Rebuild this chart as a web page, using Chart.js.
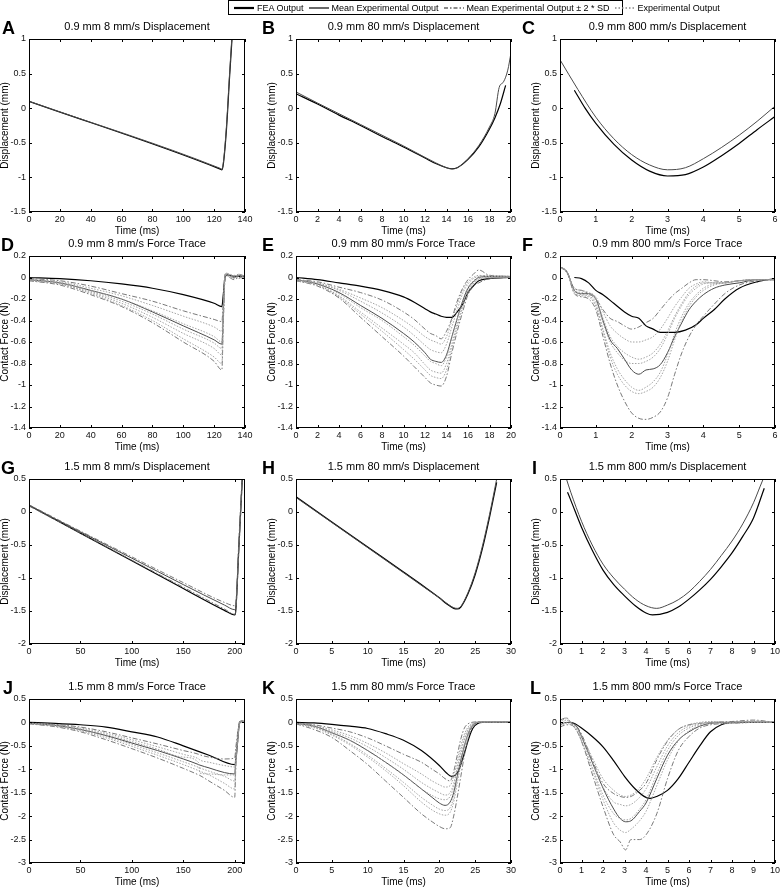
<!DOCTYPE html>
<html><head><meta charset="utf-8"><title>FEA vs experimental output</title>
<script src="https://cdn.jsdelivr.net/npm/chart.js@4.4.1/dist/chart.umd.min.js"></script>
<style>
html,body{margin:0;padding:0;background:#fff}
body{position:relative;width:780px;height:889px;overflow:hidden;font-family:"Liberation Sans",Arial,sans-serif}
canvas{position:absolute}
.letter{position:absolute;font-weight:bold;font-size:18px;line-height:18px;color:#000}
#legend{position:absolute;left:228px;top:0;width:393px;height:13px;border:1px solid #000;background:#fff;display:flex;align-items:center;font-size:9px;white-space:nowrap;color:#000;z-index:5}
#legend .it{display:flex;align-items:center;margin-left:5px}
#legend svg{margin-right:3px}
</style></head><body>
<div id="legend">
<div class="it"><svg width="20" height="6"><line x1="0" y1="3" x2="20" y2="3" stroke="#000" stroke-width="2.2"/></svg>FEA Output</div>
<div class="it"><svg width="20" height="6"><line x1="0" y1="3" x2="20" y2="3" stroke="#444" stroke-width="1.6"/></svg>Mean Experimental Output</div>
<div class="it"><svg width="20" height="6"><line x1="0" y1="3" x2="20" y2="3" stroke="#666" stroke-width="1.4" stroke-dasharray="4,2,1.5,2"/></svg>Mean Experimental Output ± 2 * SD</div>
<div class="it"><svg width="20" height="6"><line x1="0" y1="3" x2="20" y2="3" stroke="#888" stroke-width="1.4" stroke-dasharray="1.5,2"/></svg>Experimental Output</div>
</div>
<script>
// ---------- DATA ----------
// A: 0.9 mm 8 mm/s displacement
const tA = [0, 124, 125, 126, 128, 130, 132];
const fA = [0.1, -0.88, -0.89, -0.8, -0.3, 0.45, 1.15];
const mA = [0.1, -0.87, -0.88, -0.78, -0.25, 0.5, 1.2];
// B: 0.9 mm 80 mm/s displacement
const tBf = [0, 2, 4, 6, 8, 10, 12, 13, 14, 14.5, 15, 16, 17, 18, 18.5, 19, 19.5];
const fB = [0.21, 0.06, -0.1, -0.25, -0.41, -0.56, -0.72, -0.8, -0.86, -0.875, -0.86, -0.74, -0.56, -0.3, -0.14, 0.06, 0.33];
const tB = [0, 2, 4, 6, 8, 10, 12, 13, 14, 14.5, 15, 16, 17, 18, 18.5, 18.9, 19.3, 19.7, 20];
const mB = [0.235, 0.075, -0.08, -0.235, -0.39, -0.545, -0.71, -0.79, -0.86, -0.88, -0.86, -0.73, -0.54, -0.27, -0.08, 0.3, 0.38, 0.55, 0.8];
// C: 0.9 mm 800 mm/s displacement
const tC = [0, 0.5, 1, 1.5, 2, 2.5, 3, 3.5, 4, 4.5, 5, 5.5, 6];
const mC = [0.7, 0.27, -0.13, -0.44, -0.67, -0.82, -0.89, -0.86, -0.73, -0.57, -0.39, -0.19, 0.03];
const tCf = [0.4, 0.7, 1, 1.5, 2, 2.5, 3, 3.5, 4, 4.5, 5, 5.5, 6];
const fC = [0.26, 0.0, -0.22, -0.52, -0.75, -0.91, -0.98, -0.96, -0.85, -0.69, -0.51, -0.31, -0.12];
// D: 0.9 mm 8 mm/s force
const tD = [0, 20, 40, 60, 80, 100, 120, 125, 126, 127, 128, 130, 133, 136, 140];
const fD = [0, -0.01, -0.03, -0.06, -0.1, -0.16, -0.24, -0.27, -0.15, 0.0, 0.02, 0.02, 0.01, 0.01, 0.01];
const mD = [-0.02, -0.05, -0.12, -0.2, -0.32, -0.45, -0.58, -0.62, -0.3, 0.0, 0.03, 0.02, 0.0, 0.02, 0.0];
const uD = [-0.01, -0.03, -0.08, -0.15, -0.22, -0.31, -0.39, -0.41, -0.2, 0.03, 0.04, 0.03, 0.01, 0.03, 0.01];
const lD = [-0.03, -0.07, -0.16, -0.27, -0.42, -0.6, -0.78, -0.86, -0.4, -0.03, 0.02, 0.0, -0.02, 0.0, -0.01];
const e1D = [-0.02, -0.04, -0.1, -0.17, -0.26, -0.36, -0.46, -0.5, -0.25, 0.02, 0.03, 0.01, 0.02, 0.0, 0.02];
const e2D = [-0.02, -0.05, -0.12, -0.2, -0.31, -0.43, -0.55, -0.6, -0.3, 0.0, 0.04, 0.02, 0.0, 0.03, 0.01];
const e3D = [-0.02, -0.05, -0.13, -0.22, -0.34, -0.48, -0.61, -0.66, -0.33, 0.01, 0.02, 0.03, 0.01, -0.01, 0.02];
const e4D = [-0.03, -0.06, -0.14, -0.24, -0.37, -0.52, -0.66, -0.72, -0.35, -0.01, 0.03, 0.0, 0.02, 0.01, 0.0];
const e5D = [-0.03, -0.06, -0.15, -0.26, -0.4, -0.57, -0.74, -0.8, -0.4, 0.0, 0.02, 0.01, -0.01, 0.02, 0.01];
// E: 0.9 mm 80 mm/s force
const tE = [0, 2, 4, 6, 8, 10, 11, 12, 12.5, 13, 13.5, 14, 14.5, 15, 15.5, 16, 16.5, 17, 18, 20];
const fE = [0, -0.02, -0.05, -0.08, -0.12, -0.18, -0.23, -0.29, -0.32, -0.34, -0.36, -0.37, -0.37, -0.32, -0.25, -0.14, -0.08, -0.03, -0.01, 0];
const mE = [-0.02, -0.06, -0.14, -0.26, -0.38, -0.52, -0.6, -0.7, -0.76, -0.78, -0.79, -0.72, -0.55, -0.38, -0.22, -0.1, -0.04, 0, 0.01, 0.01];
const uE = [-0.02, -0.04, -0.09, -0.14, -0.21, -0.32, -0.39, -0.48, -0.52, -0.54, -0.57, -0.5, -0.38, -0.22, -0.1, -0.02, 0.03, 0.07, 0.02, 0.01];
const lE = [-0.03, -0.08, -0.19, -0.37, -0.55, -0.73, -0.83, -0.93, -0.98, -1.0, -1.01, -0.92, -0.7, -0.5, -0.32, -0.16, -0.08, -0.05, -0.01, 0];
const e1E = [-0.02, -0.05, -0.11, -0.19, -0.28, -0.4, -0.47, -0.55, -0.58, -0.6, -0.62, -0.55, -0.4, -0.25, -0.12, -0.04, 0.0, 0.02, 0.01, 0.01];
const e2E = [-0.02, -0.05, -0.12, -0.22, -0.33, -0.46, -0.54, -0.63, -0.67, -0.69, -0.7, -0.62, -0.46, -0.3, -0.15, -0.06, -0.01, 0.01, 0.02, 0.01];
const e3E = [-0.02, -0.06, -0.15, -0.28, -0.4, -0.55, -0.63, -0.73, -0.78, -0.8, -0.82, -0.74, -0.56, -0.38, -0.22, -0.09, -0.03, 0.0, 0.01, 0.01];
const e4E = [-0.03, -0.07, -0.17, -0.32, -0.47, -0.62, -0.7, -0.81, -0.86, -0.88, -0.89, -0.8, -0.62, -0.43, -0.26, -0.12, -0.05, -0.01, 0.0, 0.0];
const e5E = [-0.03, -0.07, -0.18, -0.34, -0.5, -0.67, -0.76, -0.86, -0.91, -0.93, -0.94, -0.86, -0.66, -0.46, -0.28, -0.14, -0.06, -0.02, 0.0, 0.0];
// F: 0.9 mm 800 mm/s force
const tF = [0, 0.2, 0.4, 0.6, 0.8, 1.0, 1.2, 1.4, 1.6, 1.8, 2.0, 2.2, 2.4, 2.6, 2.8, 3.0, 3.2, 3.4, 3.6, 3.8, 4.0, 4.3, 4.6, 5.0, 5.5, 6.0];
const mF = [0.1, 0.05, -0.12, -0.15, -0.15, -0.2, -0.4, -0.58, -0.66, -0.76, -0.86, -0.9, -0.86, -0.85, -0.81, -0.7, -0.55, -0.42, -0.3, -0.22, -0.16, -0.1, -0.07, -0.05, -0.02, -0.02];
const uF = [0.1, 0.04, -0.1, -0.12, -0.15, -0.2, -0.3, -0.38, -0.41, -0.45, -0.48, -0.46, -0.42, -0.38, -0.3, -0.22, -0.15, -0.1, -0.05, -0.02, -0.02, -0.03, -0.04, -0.03, -0.02, -0.02];
const lF = [0.1, 0.05, -0.15, -0.18, -0.2, -0.3, -0.55, -0.8, -1.0, -1.15, -1.26, -1.31, -1.32, -1.3, -1.25, -1.12, -0.9, -0.7, -0.55, -0.44, -0.36, -0.25, -0.15, -0.07, -0.03, -0.02];
const e1F = [0.1, 0.04, -0.1, -0.12, -0.14, -0.18, -0.32, -0.45, -0.52, -0.57, -0.6, -0.6, -0.58, -0.55, -0.48, -0.38, -0.27, -0.18, -0.1, -0.06, -0.04, -0.05, -0.05, -0.03, -0.02, -0.02];
const e2F = [0.1, 0.05, -0.11, -0.14, -0.15, -0.2, -0.38, -0.55, -0.64, -0.7, -0.74, -0.76, -0.74, -0.7, -0.62, -0.5, -0.36, -0.24, -0.14, -0.08, -0.05, -0.05, -0.05, -0.03, -0.02, -0.02];
const e3F = [0.1, 0.05, -0.12, -0.15, -0.16, -0.22, -0.42, -0.6, -0.7, -0.77, -0.8, -0.8, -0.78, -0.74, -0.66, -0.53, -0.38, -0.26, -0.16, -0.1, -0.06, -0.05, -0.05, -0.03, -0.02, -0.02];
const e4F = [0.1, 0.05, -0.13, -0.16, -0.17, -0.25, -0.48, -0.7, -0.85, -0.95, -1.02, -1.05, -1.02, -0.97, -0.88, -0.72, -0.52, -0.36, -0.24, -0.16, -0.1, -0.06, -0.05, -0.03, -0.02, -0.02];
const e5F = [0.1, 0.05, -0.14, -0.17, -0.18, -0.27, -0.5, -0.74, -0.9, -1.0, -1.06, -1.08, -1.06, -1.02, -0.93, -0.78, -0.58, -0.4, -0.27, -0.18, -0.12, -0.07, -0.05, -0.03, -0.02, -0.02];
const tFf = [0.4, 0.6, 0.8, 1.0, 1.2, 1.5, 1.8, 2.0, 2.2, 2.4, 2.6, 2.8, 3.0, 3.2, 3.5, 3.8, 4.0, 4.3, 4.6, 5.0, 5.5, 6.0];
const fF = [0.0, -0.01, -0.05, -0.12, -0.16, -0.24, -0.32, -0.36, -0.38, -0.45, -0.48, -0.51, -0.51, -0.51, -0.49, -0.44, -0.38, -0.3, -0.2, -0.1, -0.04, -0.01];
// G: 1.5 mm 8 mm/s displacement
const tG = [0, 50, 100, 150, 190, 200, 201, 204, 208];
const fG = [0.1, -0.32, -0.74, -1.16, -1.49, -1.56, -1.5, -0.55, 0.7];
const mG = [0.1, -0.3, -0.7, -1.1, -1.41, -1.48, -1.44, -0.5, 0.75];
const uG = [0.11, -0.29, -0.68, -1.07, -1.37, -1.42, -1.38, -0.45, 0.8];
const lG = [0.09, -0.32, -0.73, -1.14, -1.47, -1.55, -1.5, -0.6, 0.68];
// H: 1.5 mm 80 mm/s displacement
const tH = [0, 5, 10, 15, 18, 20, 21, 22, 22.5, 23, 24, 25, 26, 27, 28];
const mH = [0.22, -0.16, -0.54, -0.92, -1.15, -1.3, -1.38, -1.45, -1.46, -1.43, -1.22, -0.92, -0.52, -0.04, 0.5];
const fH = [0.23, -0.15, -0.53, -0.91, -1.14, -1.3, -1.39, -1.46, -1.47, -1.44, -1.24, -0.95, -0.56, -0.08, 0.45];
// I: 1.5 mm 800 mm/s displacement
const tI = [0.28, 0.5, 1, 1.5, 2, 2.5, 3, 3.5, 4, 4.5, 5, 5.5, 6, 6.5, 7, 7.5, 8, 8.5, 9, 9.3, 9.45];
const mI = [0.52, 0.3, -0.14, -0.5, -0.79, -1.0, -1.17, -1.32, -1.42, -1.46, -1.41, -1.33, -1.21, -1.05, -0.87, -0.66, -0.44, -0.18, 0.14, 0.38, 0.5];
const tIf = [0.35, 0.5, 1, 1.5, 2, 2.5, 3, 3.5, 4, 4.3, 5, 5.5, 6, 6.5, 7, 7.5, 8, 8.5, 9, 9.5];
const fI = [0.3, 0.18, -0.23, -0.58, -0.88, -1.1, -1.27, -1.42, -1.53, -1.56, -1.52, -1.44, -1.32, -1.18, -1.02, -0.83, -0.62, -0.37, -0.09, 0.36];
// J: 1.5 mm 8 mm/s force
const tJ = [0, 25, 50, 75, 100, 125, 150, 165, 166, 175, 190, 200, 201, 203, 205, 207, 210];
const mJ = [-0.02, -0.06, -0.15, -0.28, -0.44, -0.6, -0.78, -0.9, -0.91, -0.97, -1.07, -1.1, -0.8, -0.3, 0.02, 0.03, 0.02];
const uJ = [-0.01, -0.04, -0.1, -0.2, -0.33, -0.46, -0.6, -0.68, -0.69, -0.74, -0.78, -0.76, -0.55, -0.2, 0.03, 0.03, 0.02];
const lJ = [-0.03, -0.09, -0.2, -0.37, -0.56, -0.76, -0.98, -1.12, -1.13, -1.25, -1.45, -1.6, -1.0, -0.4, 0.0, 0.03, 0.02];
const e1J = [-0.02, -0.05, -0.12, -0.23, -0.37, -0.52, -0.68, -0.78, -0.8, -0.85, -0.92, -0.95, -0.7, -0.25, 0.02, 0.03, 0.02];
const e2J = [-0.02, -0.06, -0.14, -0.26, -0.41, -0.57, -0.74, -0.86, -1.08, -1.1, -1.12, -1.12, -0.8, -0.3, 0.01, 0.03, 0.02];
const e3J = [-0.02, -0.07, -0.16, -0.3, -0.47, -0.65, -0.84, -0.96, -0.97, -1.04, -1.15, -1.25, -0.9, -0.35, 0.0, 0.03, 0.02];
const e4J = [-0.03, -0.08, -0.18, -0.33, -0.51, -0.7, -0.9, -1.03, -1.04, -1.12, -1.3, -1.42, -0.95, -0.38, 0.0, 0.03, 0.02];
const tJf = [0, 25, 50, 75, 100, 125, 150, 175, 200, 202, 204, 206, 208];
const fJ = [0, -0.02, -0.05, -0.1, -0.2, -0.31, -0.5, -0.7, -0.9, -0.6, -0.1, 0.02, 0.0];
// K: 1.5 mm 80 mm/s force
const tK = [0, 2.5, 5, 7.5, 10, 12.5, 15, 17.5, 19, 20, 20.8, 21.5, 22, 22.5, 23, 23.5, 24, 24.5, 25, 26, 30];
const mK = [-0.02, -0.08, -0.22, -0.38, -0.6, -0.85, -1.12, -1.42, -1.6, -1.72, -1.77, -1.7, -1.5, -1.15, -0.8, -0.5, -0.25, -0.1, -0.02, 0.01, 0.01];
const uK = [-0.01, -0.05, -0.12, -0.2, -0.33, -0.5, -0.68, -0.85, -1.0, -1.1, -1.2, -1.25, -1.05, -0.7, -0.35, -0.12, -0.03, 0.0, 0.01, 0.01, 0.01];
const lK = [-0.03, -0.15, -0.32, -0.6, -0.9, -1.25, -1.6, -1.95, -2.12, -2.22, -2.27, -2.25, -2.0, -1.6, -1.15, -0.7, -0.35, -0.12, -0.02, 0.01, 0.01];
const e1K = [-0.02, -0.06, -0.16, -0.28, -0.45, -0.65, -0.88, -1.1, -1.25, -1.33, -1.38, -1.35, -1.15, -0.82, -0.5, -0.25, -0.1, -0.03, 0.0, 0.01, 0.01];
const e2K = [-0.02, -0.07, -0.19, -0.33, -0.52, -0.75, -1.0, -1.28, -1.42, -1.5, -1.55, -1.5, -1.3, -0.95, -0.6, -0.32, -0.14, -0.05, 0.0, 0.01, 0.01];
const e3K = [-0.02, -0.08, -0.22, -0.38, -0.6, -0.85, -1.12, -1.42, -1.56, -1.63, -1.65, -1.58, -1.38, -1.02, -0.68, -0.38, -0.18, -0.06, 0.0, 0.01, 0.01];
const e4K = [-0.03, -0.1, -0.25, -0.45, -0.7, -0.98, -1.28, -1.6, -1.76, -1.85, -1.88, -1.82, -1.6, -1.2, -0.82, -0.48, -0.22, -0.08, -0.01, 0.01, 0.01];
const e5K = [-0.03, -0.11, -0.27, -0.48, -0.74, -1.03, -1.35, -1.7, -1.87, -1.95, -1.98, -1.92, -1.7, -1.3, -0.9, -0.52, -0.25, -0.09, -0.01, 0.01, 0.01];
const tKf = [0, 2.5, 5, 7.5, 10, 12.5, 15, 17.5, 20, 21, 21.7, 22.2, 22.7, 23.2, 23.7, 24.2, 24.7, 25.3, 26, 30];
const fK = [0, -0.01, -0.04, -0.08, -0.13, -0.24, -0.38, -0.6, -0.92, -1.08, -1.15, -1.13, -1.02, -0.8, -0.55, -0.3, -0.12, -0.03, 0, 0];
// L: 1.5 mm 800 mm/s force
const tL = [0, 0.3, 0.5, 0.8, 1, 1.5, 2, 2.5, 2.8, 3.05, 3.3, 3.7, 4, 4.5, 5, 5.5, 6, 6.5, 7, 8, 9, 10];
const mL = [-0.05, 0.0, 0.0, -0.1, -0.3, -0.85, -1.4, -1.85, -2.05, -2.12, -2.1, -1.9, -1.72, -1.2, -0.7, -0.38, -0.2, -0.08, -0.02, 0.0, 0.0, 0.0];
const uL = [0.05, 0.1, 0.0, -0.1, -0.25, -0.8, -1.3, -1.52, -1.58, -1.6, -1.58, -1.45, -1.3, -0.8, -0.4, -0.15, -0.05, -0.02, 0.0, 0.02, 0.05, 0.0];
const lL = [-0.1, -0.05, -0.05, -0.2, -0.4, -1.1, -1.8, -2.4, -2.55, -2.72, -2.5, -2.5, -2.4, -1.95, -1.2, -0.6, -0.3, -0.12, -0.05, -0.02, 0.0, 0.0];
const e1L = [0.0, 0.1, 0.0, -0.12, -0.28, -0.75, -1.2, -1.45, -1.55, -1.58, -1.55, -1.4, -1.2, -0.75, -0.38, -0.15, -0.05, 0.0, 0.02, 0.0, 0.03, 0.0];
const e2L = [-0.05, 0.05, -0.02, -0.15, -0.32, -0.85, -1.38, -1.7, -1.75, -1.78, -1.75, -1.6, -1.42, -0.95, -0.5, -0.22, -0.08, -0.02, 0.0, 0.01, 0.02, 0.0];
const e3L = [-0.08, -0.02, -0.05, -0.18, -0.38, -0.95, -1.55, -1.95, -2.05, -2.08, -2.05, -1.85, -1.65, -1.1, -0.6, -0.28, -0.12, -0.04, 0.0, -0.02, 0.0, 0.0];
const e4L = [0.02, 0.08, 0.0, -0.2, -0.4, -1.0, -1.65, -2.15, -2.3, -2.35, -2.28, -2.1, -1.9, -1.35, -0.8, -0.4, -0.18, -0.06, -0.02, 0.0, 0.01, 0.0];
const tLf = [0.5, 0.7, 1, 1.5, 2, 2.5, 3, 3.5, 4, 4.2, 4.5, 5, 5.5, 6, 6.5, 7, 7.5, 8, 10];
const fL = [0, -0.03, -0.12, -0.3, -0.52, -0.82, -1.15, -1.42, -1.6, -1.62, -1.58, -1.45, -1.2, -0.85, -0.5, -0.2, -0.05, 0, 0];

// tick labels
const xTicks140 = [0, 20, 40, 60, 80, 100, 120, 140];
const xTicks20 = [0, 2, 4, 6, 8, 10, 12, 14, 16, 18, 20];
const xTicks6 = [0, 1, 2, 3, 4, 5, 6];
const xTicks210 = [0, 50, 100, 150, 200];
const xTicks30 = [0, 5, 10, 15, 20, 25, 30];
const xTicks10 = [0, 1, 2, 3, 4, 5, 6, 7, 8, 9, 10];
const yTicksDispSmall = [-1.5, -1, -0.5, 0, 0.5, 1];
const yTicksForceSmall = [-1.4, -1.2, -1, -0.8, -0.6, -0.4, -0.2, 0, 0.2];
const yTicksDispLarge = [-2, -1.5, -1, -0.5, 0, 0.5];
const yTicksForceLarge = [-3, -2.5, -2, -1.5, -1, -0.5, 0, 0.5];

// ---------- LAYOUT ----------
const COL_L = [29, 296, 560], COL_R = [245, 511, 775];
const ROW_T = [39, 256, 479, 699], ROW_B = [212, 428, 644, 863];
const YW = 30, XH = 26, TOPPAD = 24, RPAD = 12, TITLE_GAP = 12;

const STY = {
  fea: {borderColor: '#000', borderWidth: 1.2, order: 3},
  mean: {borderColor: '#4a4a4a', borderWidth: 1, order: 2},
  sd: {borderColor: '#6a6a6a', borderWidth: 0.9, borderDash: [5, 2, 1.5, 2], order: 1},
  exp: {borderColor: '#9a9a9a', borderWidth: 0.9, borderDash: [1.5, 1.5], order: 0}
};
function ds(kind, t, y) {
  return Object.assign({data: t.map((v, i) => ({x: v, y: y[i]})), pointRadius: 0, fill: false,
    cubicInterpolationMode: 'monotone'}, STY[kind]);
}

const panels = [
  {id: 'A', lx: 2, r: 0, c: 0, title: '0.9 mm 8 mm/s Displacement', xt: xTicks140, yl: 'Displacement (mm)', yt: yTicksDispSmall,
   s: [ds('fea', tA, fA), ds('mean', tA, mA)]},
  {id: 'B', lx: 262, r: 0, c: 1, title: '0.9 mm 80 mm/s Displacement', xt: xTicks20, yl: 'Displacement (mm)', yt: yTicksDispSmall,
   s: [ds('fea', tBf, fB), ds('mean', tB, mB)]},
  {id: 'C', lx: 522, r: 0, c: 2, title: '0.9 mm 800 mm/s Displacement', xt: xTicks6, yl: 'Displacement (mm)', yt: yTicksDispSmall,
   s: [ds('fea', tCf, fC), ds('mean', tC, mC)]},
  {id: 'D', lx: 1, r: 1, c: 0, title: '0.9 mm 8 mm/s Force Trace', xt: xTicks140, yl: 'Contact Force (N)', yt: yTicksForceSmall,
   s: [ds('fea', tD, fD), ds('mean', tD, mD), ds('sd', tD, uD), ds('sd', tD, lD), ds('exp', tD, e1D), ds('exp', tD, e2D), ds('exp', tD, e3D), ds('exp', tD, e4D), ds('exp', tD, e5D)]},
  {id: 'E', lx: 262, r: 1, c: 1, title: '0.9 mm 80 mm/s Force Trace', xt: xTicks20, yl: 'Contact Force (N)', yt: yTicksForceSmall,
   s: [ds('fea', tE, fE), ds('mean', tE, mE), ds('sd', tE, uE), ds('sd', tE, lE), ds('exp', tE, e1E), ds('exp', tE, e2E), ds('exp', tE, e3E), ds('exp', tE, e4E), ds('exp', tE, e5E)]},
  {id: 'F', lx: 522, r: 1, c: 2, title: '0.9 mm 800 mm/s Force Trace', xt: xTicks6, yl: 'Contact Force (N)', yt: yTicksForceSmall,
   s: [ds('fea', tFf, fF), ds('mean', tF, mF), ds('sd', tF, uF), ds('sd', tF, lF), ds('exp', tF, e1F), ds('exp', tF, e2F), ds('exp', tF, e3F), ds('exp', tF, e4F), ds('exp', tF, e5F)]},
  {id: 'G', lx: 1, r: 2, c: 0, title: '1.5 mm 8 mm/s Displacement', xt: xTicks210, xmax: 210, yl: 'Displacement (mm)', yt: yTicksDispLarge,
   s: [ds('fea', tG, fG), ds('mean', tG, mG), ds('sd', tG, uG), ds('sd', tG, lG)]},
  {id: 'H', lx: 262, r: 2, c: 1, title: '1.5 mm 80 mm/s Displacement', xt: xTicks30, yl: 'Displacement (mm)', yt: yTicksDispLarge,
   s: [ds('fea', tH, fH), ds('mean', tH, mH)]},
  {id: 'I', lx: 532, r: 2, c: 2, title: '1.5 mm 800 mm/s Displacement', xt: xTicks10, yl: 'Displacement (mm)', yt: yTicksDispLarge,
   s: [ds('fea', tIf, fI), ds('mean', tI, mI)]},
  {id: 'J', lx: 3, r: 3, c: 0, title: '1.5 mm 8 mm/s Force Trace', xt: xTicks210, xmax: 210, yl: 'Contact Force (N)', yt: yTicksForceLarge,
   s: [ds('fea', tJf, fJ), ds('mean', tJ, mJ), ds('sd', tJ, uJ), ds('sd', tJ, lJ), ds('exp', tJ, e1J), ds('exp', tJ, e2J), ds('exp', tJ, e3J), ds('exp', tJ, e4J)]},
  {id: 'K', lx: 262, r: 3, c: 1, title: '1.5 mm 80 mm/s Force Trace', xt: xTicks30, yl: 'Contact Force (N)', yt: yTicksForceLarge,
   s: [ds('fea', tKf, fK), ds('mean', tK, mK), ds('sd', tK, uK), ds('sd', tK, lK), ds('exp', tK, e1K), ds('exp', tK, e2K), ds('exp', tK, e3K), ds('exp', tK, e4K), ds('exp', tK, e5K)]},
  {id: 'L', lx: 530, r: 3, c: 2, title: '1.5 mm 800 mm/s Force Trace', xt: xTicks10, yl: 'Contact Force (N)', yt: yTicksForceLarge,
   s: [ds('fea', tLf, fL), ds('mean', tL, mL), ds('sd', tL, uL), ds('sd', tL, lL), ds('exp', tL, e1L), ds('exp', tL, e2L), ds('exp', tL, e3L), ds('exp', tL, e4L)]}
];

Chart.defaults.font.family = '"Liberation Sans", Arial, sans-serif';
Chart.defaults.color = '#000';

const fmt = v => String(Math.round(v * 100) / 100);

const deco = {
  id: 'deco',
  afterDraw(chart) {
    const {ctx, chartArea: a, scales: {x, y}} = chart;
    ctx.save();
    ctx.strokeStyle = '#000';
    ctx.lineWidth = 1;
    ctx.setLineDash([]);
    ctx.strokeRect(a.left + 0.5, a.top + 0.5, a.right - a.left - 1, a.bottom - a.top - 1);
    ctx.beginPath();
    x.ticks.forEach(t => {
      const px = Math.round(x.getPixelForValue(t.value)) + 0.5;
      ctx.moveTo(px, a.bottom); ctx.lineTo(px, a.bottom - 3);
      ctx.moveTo(px, a.top); ctx.lineTo(px, a.top + 3);
    });
    y.ticks.forEach(t => {
      const py = Math.round(y.getPixelForValue(t.value)) + 0.5;
      ctx.moveTo(a.left, py); ctx.lineTo(a.left + 3, py);
      ctx.moveTo(a.right, py); ctx.lineTo(a.right - 3, py);
    });
    ctx.stroke();
    ctx.fillStyle = '#000';
    ctx.font = '11px "Liberation Sans", Arial, sans-serif';
    ctx.textAlign = 'center';
    ctx.textBaseline = 'middle';
    ctx.fillText(chart.options.plugins.deco.title, (a.left + a.right) / 2, a.top - TITLE_GAP);
    ctx.restore();
  }
};

panels.forEach(p => {
  const L = COL_L[p.c], R = COL_R[p.c], T = ROW_T[p.r], B = ROW_B[p.r];
  const w = (R - L) + YW + RPAD, h = (B - T) + TOPPAD + XH;
  const cv = document.createElement('canvas');
  cv.width = w; cv.height = h;
  cv.style.width = w + 'px'; cv.style.height = h + 'px';
  cv.style.left = (L - YW) + 'px'; cv.style.top = (T - TOPPAD) + 'px';
  document.body.appendChild(cv);
  const lt = document.createElement('div');
  lt.className = 'letter'; lt.textContent = p.id;
  lt.style.left = p.lx + 'px'; lt.style.top = (T - TITLE_GAP - 8) + 'px';
  document.body.appendChild(lt);
  const xt = p.xt, yt = p.yt;
  new Chart(cv, {
    type: 'line',
    data: {datasets: p.s},
    options: {
      responsive: false, animation: false, devicePixelRatio: 1,
      layout: {padding: {left: 0, right: RPAD, top: TOPPAD, bottom: 0}},
      plugins: {legend: {display: false}, tooltip: {enabled: false}, deco: {title: p.title}},
      scales: {
        x: {type: 'linear', min: xt[0], max: p.xmax !== undefined ? p.xmax : xt[xt.length - 1],
          grid: {display: false, drawTicks: false}, border: {display: false},
          ticks: {font: {size: 9}, color: '#111', padding: 2, maxRotation: 0, autoSkip: false, callback: fmt},
          afterBuildTicks: s => { s.ticks = xt.map(v => ({value: v})); },
          title: {display: true, text: 'Time (ms)', font: {size: 10}, color: '#000', padding: {top: 0, bottom: 1}},
          afterFit: s => { s.height = XH; }},
        y: {type: 'linear', min: yt[0], max: yt[yt.length - 1],
          grid: {display: false, drawTicks: false}, border: {display: false},
          ticks: {font: {size: 9}, color: '#111', padding: 3, autoSkip: false, callback: fmt},
          afterBuildTicks: s => { s.ticks = yt.map(v => ({value: v})); },
          title: {display: true, text: p.yl, font: {size: 10}, color: '#000', padding: {top: 0, bottom: 0}},
          afterFit: s => { s.width = YW; }}
      }
    },
    plugins: [deco]
  });
});
</script>
</body></html>
